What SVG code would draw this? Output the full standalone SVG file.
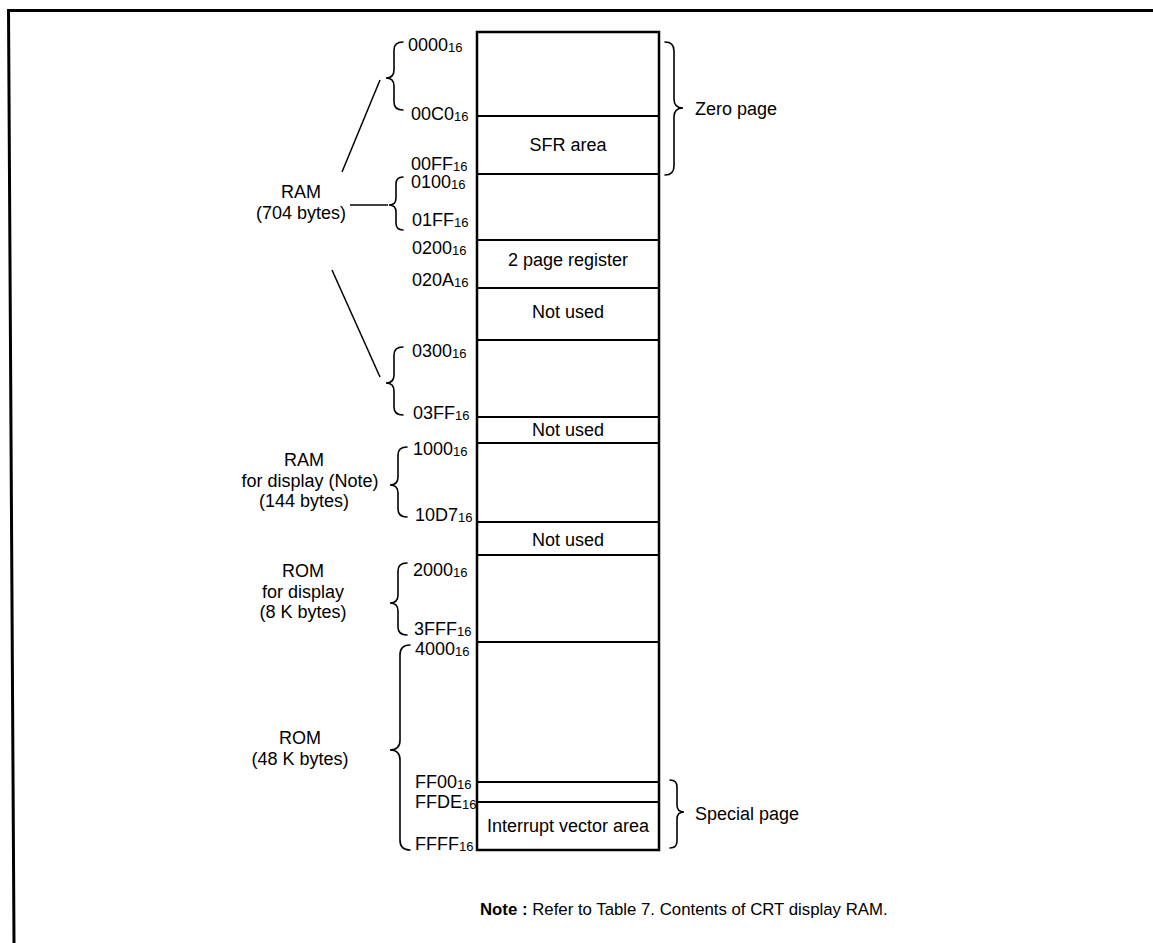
<svg xmlns="http://www.w3.org/2000/svg" width="1153" height="943" viewBox="0 0 1153 943">
<style>
text{font-family:"Liberation Sans",Arial,sans-serif;fill:#000}
.lbl{font-size:18px;text-anchor:middle}
.adr{font-size:18px}
.sub{font-size:13px}
.box{fill:#fff;stroke:#000;stroke-width:2.5}
.div{stroke:#000;stroke-width:2.2}
.br{fill:none;stroke:#000;stroke-width:1.6;stroke-linecap:round}
.ln{stroke:#000;stroke-width:1.5}
</style>
<rect width="1153" height="943" fill="#fff"/>
<g id="frame"><path d="M8,10.5 H1153 M8.5,9 L14,943" fill="none" stroke="#000" stroke-width="3"/></g>

<g id="memory-map">
<rect class="box" x="477" y="32" width="182" height="818"/>
<path class="div" d="M477,116H659M477,174H659M477,240H659M477,288H659M477,340H659M477,417H659M477,443H659M477,522H659M477,555H659M477,642H659M477,782H659M477,802H659"/>
</g>
<g id="sfr"><text class="lbl" x="568" y="151">SFR area</text></g>
<g id="page2"><text class="lbl" x="568" y="266">2 page register</text></g>
<g id="notused1"><text class="lbl" x="568" y="318">Not used</text></g>
<g id="notused2"><text class="lbl" x="568" y="436">Not used</text></g>
<g id="notused3"><text class="lbl" x="568" y="546">Not used</text></g>
<g id="intvec"><text class="lbl" x="568" y="832">Interrupt vector area</text></g>

<g id="addresses">
<text class="adr" x="408" y="51">0000<tspan class="sub" dy="1">16</tspan></text>
<text class="adr" x="411" y="120">00C0<tspan class="sub" dy="1">16</tspan></text>
<text class="adr" x="411" y="170">00FF<tspan class="sub" dy="1">16</tspan></text>
<text class="adr" x="411" y="188">0100<tspan class="sub" dy="1">16</tspan></text>
<text class="adr" x="412" y="226">01FF<tspan class="sub" dy="1">16</tspan></text>
<text class="adr" x="412" y="254">0200<tspan class="sub" dy="1">16</tspan></text>
<text class="adr" x="412" y="286">020A<tspan class="sub" dy="1">16</tspan></text>
<text class="adr" x="412" y="357">0300<tspan class="sub" dy="1">16</tspan></text>
<text class="adr" x="413" y="419">03FF<tspan class="sub" dy="1">16</tspan></text>
<text class="adr" x="413" y="455">1000<tspan class="sub" dy="1">16</tspan></text>
<text class="adr" x="415" y="521">10D7<tspan class="sub" dy="1">16</tspan></text>
<text class="adr" x="413" y="576">2000<tspan class="sub" dy="1">16</tspan></text>
<text class="adr" x="414" y="635">3FFF<tspan class="sub" dy="1">16</tspan></text>
<text class="adr" x="415" y="655">4000<tspan class="sub" dy="1">16</tspan></text>
<text class="adr" x="415" y="788">FF00<tspan class="sub" dy="1">16</tspan></text>
<text class="adr" x="415" y="808">FFDE<tspan class="sub" dy="1">16</tspan></text>
<text class="adr" x="415" y="850">FFFF<tspan class="sub" dy="1">16</tspan></text>
</g>

<g id="ram704">
<text class="lbl" x="301" y="198">RAM</text>
<text class="lbl" x="301" y="219">(704 bytes)</text>
</g>
<g id="ramdisp">
<text class="lbl" x="304" y="466">RAM</text>
<text class="lbl" x="310" y="487">for display (Note)</text>
<text class="lbl" x="304" y="507">(144 bytes)</text>
</g>
<g id="romdisp">
<text class="lbl" x="303" y="577">ROM</text>
<text class="lbl" x="303" y="598">for display</text>
<text class="lbl" x="303" y="618">(8 K bytes)</text>
</g>
<g id="rom48">
<text class="lbl" x="300" y="744">ROM</text>
<text class="lbl" x="300" y="765">(48 K bytes)</text>
</g>
<g id="zeropage"><text x="695" y="115" style="font-size:18px">Zero page</text></g>
<g id="specialpage"><text x="695" y="820" style="font-size:18px">Special page</text></g>
<g id="note"><text x="480" y="915" style="font-size:16.8px"><tspan font-weight="bold">Note :</tspan> Refer to Table 7. Contents of CRT display RAM.</text></g>

<g id="connectors">
<path class="br" d="M403,42 Q394,42 394,50 L394,70 Q394,78 386,78 Q394,78 394,86 L394,102 Q394,110 403,110"/>
<path class="br" d="M403,177 Q396,177 396,184 L396,198 Q396,205 389,205 Q396,205 396,212 L396,223 Q396,230 403,230"/>
<path class="br" d="M403,347 Q394,347 394,355 L394,375 Q394,383 386,383 Q394,383 394,391 L394,407 Q394,415 403,415"/>
<path class="br" d="M407,447 Q398,447 398,455 L398,477 Q398,485 390,485 Q398,485 398,493 L398,509 Q398,517 407,517"/>
<path class="br" d="M407,563 Q398,563 398,571 L398,595 Q398,603 390,603 Q398,603 398,611 L398,627 Q398,635 407,635"/>
<path class="br" d="M410,645 Q400,645 400,655 L400,740 Q400,750 390,750 Q400,750 400,760 L400,840 Q400,850 410,850"/>
<path class="br" d="M665,42 Q674,42 674,51 L674,99 Q674,108 683,108 Q674,108 674,117 L674,166 Q674,175 665,175"/>
<path class="br" d="M670,780 Q677,780 677,787 L677,805 Q677,812 684,812 Q677,812 677,819 L677,841 Q677,848 670,848"/>
<path class="ln" d="M342,172 L380,80"/>
<path class="ln" d="M332,270 L380,377"/>
<path class="ln" d="M350,205 L388,205"/>
</g>
</svg>
